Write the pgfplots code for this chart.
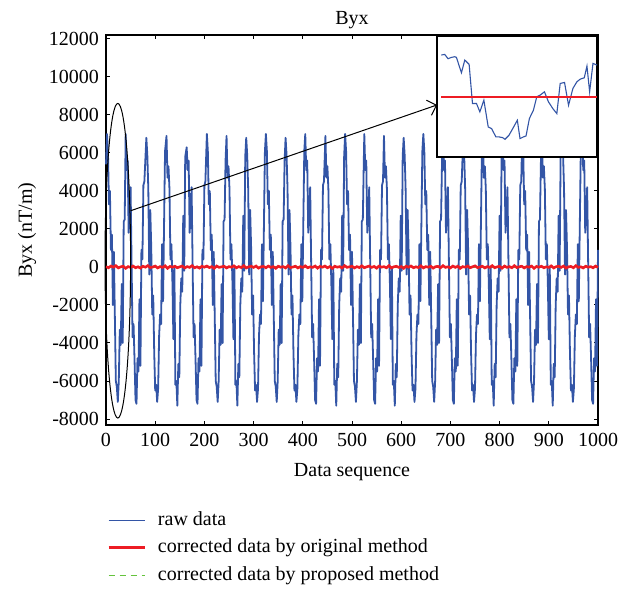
\documentclass[border=0pt]{standalone}
\usepackage{pgfplots}
\pgfplotsset{compat=1.18}
\usepackage{fontspec}
\setmainfont{Liberation Serif}
\usetikzlibrary{arrows.meta}
\definecolor{rawblue}{RGB}{51,85,166}
\definecolor{corrred}{RGB}{237,28,36}
\definecolor{propgreen}{RGB}{100,195,60}
\begin{document}
\begin{tikzpicture}[font=\fontsize{10}{12}\selectfont]
\path[use as bounding box] (-53pt,-82.5pt) rectangle (263pt,212.5pt);
\begin{axis}[
  at={(0pt,0pt)}, anchor=south west,
  scale only axis, width=246pt, height=195pt,
  xmin=0, xmax=1000, ymin=-8316, ymax=12210,
  xtick={0,100,...,1000}, ytick={-8000,-6000,...,12000},
  scaled x ticks=false, scaled y ticks=false,
  /pgf/number format/.cd, 1000 sep={}, assume math mode=true, /pgfplots/.cd,
  major tick length=2.2pt,
  tick style={black, line width=0.5pt},
  axis line style={line width=0.6pt},
  clip=false,
  title={Byx},
  title style={at={(0.5,1)}, anchor=base, yshift=-0.5pt},
  xlabel={Data sequence},
  xlabel style={at={(axis description cs:0.5,0)}, anchor=base, yshift=-25.5pt},
  ylabel={Byx (nT/m)},
  ylabel style={at={(axis description cs:-0.1504,0.5)}, anchor=base},
  xticklabel style={anchor=base, yshift=-10.5pt},
  legend style={draw=none, fill=none, at={(axis description cs:0,0)}, anchor=north west,
    xshift=0.5pt, yshift=-42.8pt, inner sep=0pt, row sep=4.55pt, column sep=4pt,
    nodes={text height=7pt, text depth=2.2pt, inner ysep=0pt}},
  legend cell align=left,
  legend image code/.code={\draw[#1] (0pt,0pt) -- (18pt,0pt);},
]
\addplot[rawblue, line width=0.9pt, line join=round, forget plot] coordinates {
(0,5400)(2,7000)(4,6100)(6,3300)(8,4000)(10,900)(12,1700)(14,-2000)(16,800)(18,-2600)(20,-6000)(22,-6300)(24,-7100)(26,-6000)(28,-3300)(30,-4100)(32,-900)(34,-4000)(36,2400)(38,2500)
(40,7000)(42,5100)(44,5600)(46,1800)(48,2700)(50,4200)(52,200)(54,-3700)(56,-3000)(58,-4900)(60,-7000)(62,-7200)(64,-4800)(66,-5500)(68,-1700)(70,-5200)(72,900)(74,400)(76,4300)(78,4500)
(82,6800)(84,5900)(86,4100)(88,-400)(90,3000)(92,1000)(94,-2500)(96,-1500)(98,-4500)(100,-6500)(102,-6200)(104,-7100)(106,-6400)(108,-3600)(110,-2500)(112,-3000)(114,1200)(116,-1800)(118,2200)(120,6100)
(123,6900)(125,4700)(127,5300)(129,4100)(131,400)(133,1200)(135,-800)(137,-3800)(139,0)(141,-6200)(143,-6000)(145,-7300)(147,-5100)(149,-5800)(151,-2000)(153,-600)(155,-1300)(157,2700)(159,-200)(161,5800)
(164,6300)(166,5100)(168,5600)(170,1800)(172,2700)(174,4200)(176,200)(178,-3700)(180,-3000)(182,-4900)(184,-7000)(186,-7200)(188,-4800)(190,-5500)(192,-1700)(194,-5200)(196,900)(198,400)(200,4300)(202,4500)
(205,7000)(207,6100)(209,3300)(211,4000)(213,900)(215,1700)(217,-2000)(219,800)(221,-2600)(223,-6000)(225,-6300)(227,-7100)(229,-6000)(231,-3300)(233,-4100)(235,-900)(237,-4000)(239,2400)(241,2500)(243,5600)
(245,6900)(247,4700)(249,5300)(251,4100)(253,400)(255,1200)(257,-800)(259,-3800)(261,0)(263,-6200)(265,-6000)(267,-7300)(269,-5100)(271,-5800)(273,-2000)(275,-600)(277,-1300)(279,2700)(281,-200)(283,5800)
(285,6800)(287,5900)(289,4100)(291,-400)(293,3000)(295,1000)(297,-2500)(299,-1500)(301,-4500)(303,-6500)(305,-6200)(307,-7100)(309,-6400)(311,-3600)(313,-2500)(315,-3000)(317,1200)(319,-1800)(321,2200)(323,6100)
(325,7000)(327,6100)(329,3300)(331,4000)(333,900)(335,1700)(337,-2000)(339,800)(341,-2600)(343,-6000)(345,-6300)(347,-7100)(349,-6000)(351,-3300)(353,-4100)(355,-900)(357,-4000)(359,2400)(361,2500)(363,5600)
(365,6800)(367,5900)(369,4100)(371,-400)(373,3000)(375,1000)(377,-2500)(379,-1500)(381,-4500)(383,-6500)(385,-6200)(387,-7100)(389,-6400)(391,-3600)(393,-2500)(395,-3000)(397,1200)(399,-1800)(401,2200)(403,6100)
(405,7000)(407,5100)(409,5600)(411,1800)(413,2700)(415,4200)(417,200)(419,-3700)(421,-3000)(423,-4900)(425,-7000)(427,-7200)(429,-4800)(431,-5500)(433,-1700)(435,-5200)(437,900)(439,400)(441,4300)(443,4500)
(446,6900)(448,4700)(450,5300)(452,4100)(454,400)(456,1200)(458,-800)(460,-3800)(462,0)(464,-6200)(466,-6000)(468,-7300)(470,-5100)(472,-5800)(474,-2000)(476,-600)(478,-1300)(480,2700)(482,-200)(484,5800)
(486,7000)(488,6100)(490,3300)(492,4000)(494,900)(496,1700)(498,-2000)(500,800)(502,-2600)(504,-6000)(506,-6300)(508,-7100)(510,-6000)(512,-3300)(514,-4100)(516,-900)(518,-4000)(520,2400)(522,2500)(524,5600)
(525,7000)(527,5100)(529,5600)(531,1800)(533,2700)(535,4200)(537,200)(539,-3700)(541,-3000)(543,-4900)(545,-7000)(547,-7200)(549,-4800)(551,-5500)(553,-1700)(555,-5200)(557,900)(559,400)(561,4300)(563,4500)
(565,6900)(567,4700)(569,5300)(571,4100)(573,400)(575,1200)(577,-800)(579,-3800)(581,0)(583,-6200)(585,-6000)(587,-7300)(589,-5100)(591,-5800)(593,-2000)(595,-600)(597,-1300)(599,2700)(601,-200)(603,5800)
(605,6800)(607,5900)(609,4100)(611,-400)(613,3000)(615,1000)(617,-2500)(619,-1500)(621,-4500)(623,-6500)(625,-6200)(627,-7100)(629,-6400)(631,-3600)(633,-2500)(635,-3000)(637,1200)(639,-1800)(641,2200)(643,6100)
(645,7000)(647,6100)(649,3300)(651,4000)(653,900)(655,1700)(657,-2000)(659,800)(661,-2600)(663,-6000)(665,-6300)(667,-7100)(669,-6000)(671,-3300)(673,-4100)(675,-900)(677,-4000)(679,2400)(681,2500)(683,5600)
(685,7000)(687,5100)(689,5600)(691,1800)(693,2700)(695,4200)(697,200)(699,-3700)(701,-3000)(703,-4900)(705,-7000)(707,-7200)(709,-4800)(711,-5500)(713,-1700)(715,-5200)(717,900)(719,400)(721,4300)(723,4500)
(726,6800)(728,5900)(730,4100)(732,-400)(734,3000)(736,1000)(738,-2500)(740,-1500)(742,-4500)(744,-6500)(746,-6200)(748,-7100)(750,-6400)(752,-3600)(754,-2500)(756,-3000)(758,1200)(760,-1800)(762,2200)(764,6100)
(766,6900)(768,4700)(770,5300)(772,4100)(774,400)(776,1200)(778,-800)(780,-3800)(782,0)(784,-6200)(786,-6000)(788,-7300)(790,-5100)(792,-5800)(794,-2000)(796,-600)(798,-1300)(800,2700)(802,-200)(804,5800)
(806,7000)(808,5100)(810,5600)(812,1800)(814,2700)(816,4200)(818,200)(820,-3700)(822,-3000)(824,-4900)(826,-7000)(828,-7200)(830,-4800)(832,-5500)(834,-1700)(836,-5200)(838,900)(840,400)(842,4300)(844,4500)
(846,7000)(848,6100)(850,3300)(852,4000)(854,900)(856,1700)(858,-2000)(860,800)(862,-2600)(864,-6000)(866,-6300)(868,-7100)(870,-6000)(872,-3300)(874,-4100)(876,-900)(878,-4000)(880,2400)(882,2500)(884,5600)
(886,6900)(888,4700)(890,5300)(892,4100)(894,400)(896,1200)(898,-800)(900,-3800)(902,0)(904,-6200)(906,-6000)(908,-7300)(910,-5100)(912,-5800)(914,-2000)(916,-600)(918,-1300)(920,2700)(922,-200)(924,5800)
(927,6800)(929,5900)(931,4100)(933,-400)(935,3000)(937,1000)(939,-2500)(941,-1500)(943,-4500)(945,-6500)(947,-6200)(949,-7100)(951,-6400)(953,-3600)(955,-2500)(957,-3000)(959,1200)(961,-1800)(963,2200)(965,6100)
(968,7000)(970,5100)(972,5600)(974,1800)(976,2700)(978,4200)(980,200)(982,-3700)(984,-3000)(986,-4900)(988,-7000)(990,-7200)(992,-4800)(994,-5500)(996,-1700)(998,-5200)(1000,900)
};
\addplot[propgreen, dash pattern=on 3pt off 2.5pt, line width=0.7pt, forget plot] coordinates {(0,0)(250,0)(500,0)(750,0)(1000,0)};
\addplot[corrred, line width=1.3pt, forget plot] coordinates {
(0,20)(5,-40)(10,50)(15,-10)(20,70)(25,-50)(30,10)(35,40)(40,-70)(45,20)(50,-20)(55,50)(60,-40)(65,10)(70,-60)(75,40)(80,-10)(85,70)(90,-30)(95,0)
(100,50)(105,-50)(110,20)(115,-20)(120,60)(125,-70)(130,30)(135,-10)(140,40)(145,-40)(150,10)(155,50)(160,-50)(165,20)(170,-20)(175,70)(180,-40)(185,10)(190,-60)(195,40)
(200,-10)(205,50)(210,-30)(215,20)(220,-70)(225,50)(230,-20)(235,10)(240,40)(245,-50)(250,20)(255,-10)(260,60)(265,-40)(270,20)(275,-30)(280,70)(285,-50)(290,10)(295,40)
(300,-20)(305,50)(310,-60)(315,10)(320,30)(325,-40)(330,50)(335,-20)(340,20)(345,-70)(350,40)(355,-10)(360,20)(365,-50)(370,70)(375,-30)(380,0)(385,40)(390,-50)(395,20)
(400,-20)(405,60)(410,-40)(415,10)(420,-20)(425,50)(430,-60)(435,30)(440,-10)(445,50)(450,-40)(455,20)(460,-70)(465,40)(470,-10)(475,20)(480,-50)(485,70)(490,-20)(495,10)
(500,40)(505,-50)(510,20)(515,-30)(520,60)(525,-40)(530,10)(535,50)(540,-20)(545,30)(550,-60)(555,50)(560,-10)(565,20)(570,-40)(575,70)(580,-50)(585,10)(590,40)(595,-20)
(600,20)(605,-70)(610,40)(615,-10)(620,50)(625,-40)(630,10)(635,-30)(640,60)(645,-50)(650,20)(655,-10)(660,40)(665,-60)(670,20)(675,30)(680,-40)(685,70)(690,-20)(695,10)
(700,-50)(705,50)(710,-20)(715,40)(720,-70)(725,20)(730,-10)(735,50)(740,-40)(745,10)(750,60)(755,-30)(760,0)(765,40)(770,-50)(775,20)(780,-20)(785,70)(790,-40)(795,10)
(800,30)(805,-60)(810,50)(815,-20)(820,20)(825,-40)(830,70)(835,-30)(840,10)(845,40)(850,-50)(855,20)(860,-10)(865,50)(870,-70)(875,30)(880,-10)(885,40)(890,-40)(895,10)
(900,-20)(905,60)(910,-50)(915,20)(920,40)(925,-20)(930,50)(935,-60)(940,10)(945,30)(950,-40)(955,70)(960,-20)(965,10)(970,-50)(975,40)(980,-10)(985,20)(990,-40)(995,50)(1000,-20)
};
\addlegendimage{rawblue, line width=0.6pt}
\addlegendentry{raw data}
\addlegendimage{corrred, line width=1.3pt}
\addlegendentry{corrected data by original method}
\addlegendimage{propgreen, dash pattern=on 3pt off 2.5pt, line width=0.7pt}
\addlegendentry{corrected data by proposed method}
\draw[black, line width=0.5pt] (axis cs:24,330) ellipse [x radius=26, y radius=8280];
\draw[black, line width=0.5pt, -{Straight Barb[length=4pt,width=8pt]}] (axis cs:50,2960) -- (axis cs:673,8530);
\end{axis}
\begin{axis}[
  at={(165.5pt,134pt)}, anchor=south west,
  scale only axis, width=80pt, height=60.5pt,
  xmin=22, xmax=500, ymin=-380, ymax=-18,
  ticks=none,
  axis line style={line width=1.1pt},
  axis background/.style={fill=white},
]
\addplot[rawblue, line width=0.55pt] coordinates {
(35,-75)(45,-73)(55,-86)(65,-82)(75,-80)(80,-82)(95,-128)(105,-90)(118,-103)(128,-220)(140,-220)(150,-245)(162,-210)(175,-290)(185,-295)(198,-320)(208,-320)(218,-322)(225,-327)(237,-315)(250,-292)(262,-270)(270,-325)(280,-320)(288,-317)(298,-265)(310,-240)(320,-200)(330,-195)(343,-185)(355,-215)(368,-235)(380,-250)(390,-160)(403,-157)(415,-225)(428,-175)(440,-155)(450,-147)(462,-143)(470,-108)(478,-185)(488,-100)(500,-105)
};
\addplot[corrred, line width=1.3pt] coordinates {(35,-200)(500,-200)};
\end{axis}
\end{tikzpicture}
\end{document}
